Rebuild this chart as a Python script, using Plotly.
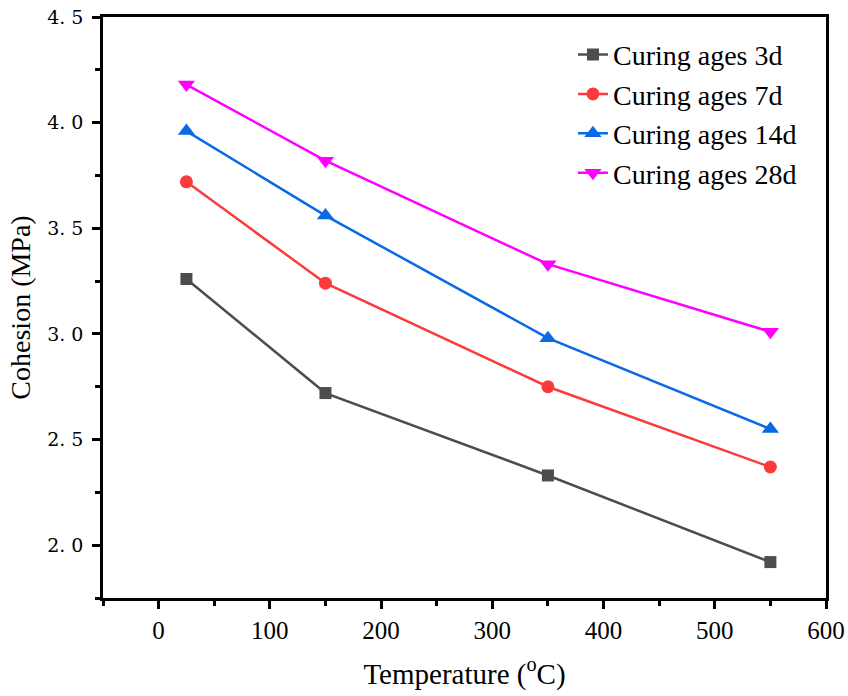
import plotly.graph_objects as go

temperature = [25, 150, 350, 550]
cohesion_3d = [3.26, 2.72, 2.33, 1.92]
cohesion_7d = [3.72, 3.24, 2.75, 2.37]
cohesion_14d = [3.96, 3.56, 2.98, 2.55]
cohesion_28d = [4.18, 3.82, 3.33, 3.01]

series_names = ["Curing ages 3d", "Curing ages 7d", "Curing ages 14d", "Curing ages 28d"]
x_tickvals = [0, 100, 200, 300, 400, 500, 600]
y_tickvals = [2.0, 2.5, 3.0, 3.5, 4.0, 4.5]
y_ticktext = ["2. 0", "2. 5", "3. 0", "3. 5", "4. 0", "4. 5"]

colors = ["#4d4d4d", "#fb3b3b", "#0a6ae6", "#ff00ff"]
symbols = ["square", "circle", "triangle-up", "triangle-down"]
sizes = [12, 13, 15, 15]
data = [cohesion_3d, cohesion_7d, cohesion_14d, cohesion_28d]

fig = go.Figure()
for name, ys, c, s, sz in zip(series_names, data, colors, symbols, sizes):
    fig.add_trace(go.Scatter(
        x=temperature, y=ys, name=name, mode="lines+markers",
        line=dict(color=c, width=2.5),
        marker=dict(symbol=s, size=sz, color=c),
    ))

font = "Liberation Serif, Times New Roman, serif"
fig.update_layout(
    width=848, height=696,
    margin=dict(l=103, r=22, t=17, b=98, autoexpand=False),
    plot_bgcolor="white", paper_bgcolor="white",
    font=dict(family=font, color="black"),
    showlegend=True,
    legend=dict(x=0.65, y=0.978, xanchor="left", yanchor="top",
                font=dict(size=28, family=font), bgcolor="rgba(0,0,0,0)",
                tracegroupgap=0),
    xaxis=dict(
        range=[-50, 600], tickvals=x_tickvals, automargin=False,
        ticklabeloverflow="allow",
        showline=True, linecolor="black", linewidth=2.5, mirror=True,
        ticks="outside", ticklen=8, tickwidth=2.5, tickcolor="black",
        minor=dict(ticks="outside", dtick=50, tick0=0, ticklen=5, tickwidth=2.5, tickcolor="black"),
        showgrid=False, zeroline=False,
        tickfont=dict(size=25, family=font),
        title=dict(text="Temperature (<sup>o</sup>C)", font=dict(size=29, family=font), standoff=21),
    ),
    yaxis=dict(
        range=[1.75, 4.5], tickvals=y_tickvals, ticktext=y_ticktext, automargin=False,
        ticklabeloverflow="allow",
        showline=True, linecolor="black", linewidth=2.5, mirror=True,
        ticks="outside", ticklen=8, tickwidth=2.5, tickcolor="black",
        minor=dict(ticks="outside", dtick=0.25, tick0=0, ticklen=5, tickwidth=2.5, tickcolor="black"),
        showgrid=False, zeroline=False, ticklabelstandoff=5,
        tickfont=dict(size=19, family="DejaVu Serif, serif"),
        title=dict(text="Cohesion (MPa)", font=dict(size=28, family=font), standoff=9),
    ),
)

fig.write_html("out.html", config={"displayModeBar": False},
               post_script="document.body.style.margin='0';")
